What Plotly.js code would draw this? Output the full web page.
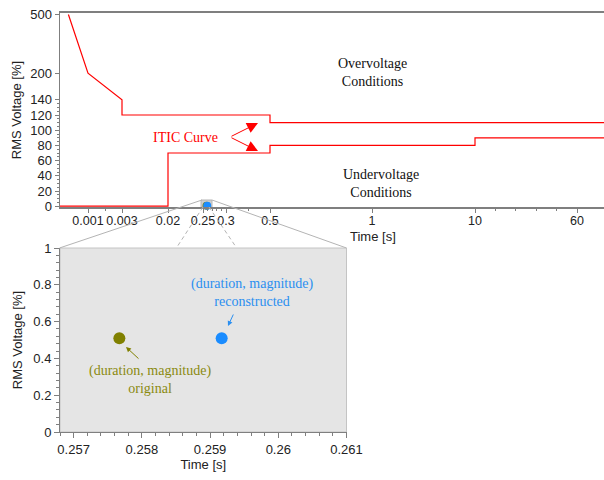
<!DOCTYPE html>
<html>
<head>
<meta charset="utf-8">
<script src="https://cdn.plot.ly/plotly-3.0.1.min.js"></script>
<style>html,body{margin:0;padding:0;background:#fff;}#chart{width:604px;height:480px;}</style>
</head>
<body>
<div id="chart"></div>
<script>
// ---- data ----
const upperTime = [0.0003, 0.001, 0.003, 0.003, 0.5, 0.5, 80];
const upperVolt = [500, 200, 140, 120, 120, 110, 110];
const lowerTime = [0, 0.02, 0.02, 0.5, 0.5, 10, 10, 80];
const lowerVolt = [0, 0, 70, 70, 80, 80, 90, 90];
const origTime = [0.25767];
const origVolt = [0.51];
const recTime = [0.25917];
const recVolt = [0.51];

const topXTicks = [0.001, 0.003, 0.02, 0.25, 0.3, 0.5, 1, 10, 60];
const topXLabels = ['0.001', '0.003', '0.02', '0.25', '0.3', '0.5', '1', '10', '60'];
const topXMinor = [0.002, 0.26, 0.27, 0.28, 0.29, 0.4, 20, 30, 40, 50];
const topYTicks = [0, 20, 40, 60, 80, 100, 120, 140, 200, 500];
const topYLabels = ['0', '20', '40', '60', '80', '100', '120', '140', '200', '500'];
const botXTicks = [0.257, 0.258, 0.259, 0.26, 0.261];
const botXLabels = ['0.257', '0.258', '0.259', '0.26', '0.261'];
const botYTicks = [0, 0.2, 0.4, 0.6, 0.8, 1];
const botYLabels = ['0', '0.2', '0.4', '0.6', '0.8', '1'];

// ---- piecewise scales of the top (ITIC) chart ----
const XV = [0, 0.001, 0.003, 0.02, 0.25, 0.3, 0.5, 1, 10, 60, 80];
const XP = [0, 28, 62, 108, 143, 166, 210, 312, 415, 517, 557];
const YV = [0, 140, 200, 500, 600];
const YP = [0, 106.4, 133, 191.7, 211.3];
function interp(v, V, P) {
  for (let i = 1; i < V.length; i++) {
    if (v <= V[i]) return P[i-1] + (v - V[i-1]) * (P[i] - P[i-1]) / (V[i] - V[i-1]);
  }
  const n = V.length - 1;
  return P[n] + (v - V[n]) * (P[n] - P[n-1]) / (V[n] - V[n-1]);
}
const sx = v => interp(v, XV, XP);
const sy = v => interp(v, YV, YP);
const minorY = [];
for (let v = 5; v < 140; v += 5) if (v % 20) minorY.push(sy(v));

// pixel -> paper helpers for decorations
const px = x => (x - 60) / 544;
const py = y => (432 - y) / 419;

const RED = '#ff0000', OLIVE = '#808000', BLUE = '#1a8cff';
const tickFont = {family: 'Liberation Sans, Arial, sans-serif', size: 13, color: '#222'};
const topXFont = {family: 'Liberation Sans, Arial, sans-serif', size: 12.5, color: '#222'};
const serif = 'Liberation Serif, Times New Roman, serif';

const traces = [
  {x: upperTime.map(sx), y: upperVolt.map(sy), xaxis: 'x', yaxis: 'y', mode: 'lines',
   line: {color: RED, width: 1.2}, hoverinfo: 'skip'},
  {x: lowerTime.map(sx), y: lowerVolt.map(sy), xaxis: 'x', yaxis: 'y', mode: 'lines',
   line: {color: RED, width: 1.2}, hoverinfo: 'skip'},
  {x: origTime.map(sx), y: origVolt.map(sy), xaxis: 'x', yaxis: 'y', mode: 'markers', cliponaxis: false,
   marker: {color: OLIVE, size: 8}},
  {x: recTime.map(sx), y: recVolt.map(sy), xaxis: 'x', yaxis: 'y', mode: 'markers', cliponaxis: false,
   marker: {color: BLUE, size: 8}},
  {x: origTime, y: origVolt, xaxis: 'x2', yaxis: 'y2', mode: 'markers',
   marker: {color: OLIVE, size: 12}},
  {x: recTime, y: recVolt, xaxis: 'x2', yaxis: 'y2', mode: 'markers',
   marker: {color: BLUE, size: 12}}
];

const GRAY = '#7f7f7f';
function note(x, y, text, color, extra) {
  return Object.assign({xref: 'paper', yref: 'paper', x: px(x), y: py(y), text: text, showarrow: false,
    xanchor: 'center', yanchor: 'middle', font: {family: serif, size: 14, color: color}}, extra || {});
}
function arrow(hx, hy, ax, ay, color, size) {
  return {xref: 'paper', yref: 'paper', x: px(hx), y: py(hy), text: '', showarrow: true,
    ax: ax, ay: ay, arrowhead: 2, arrowsize: size, arrowwidth: 1, arrowcolor: color};
}
const layout = {
  width: 604, height: 480,
  margin: {l: 60, r: 0, t: 13, b: 48},
  paper_bgcolor: '#fff', plot_bgcolor: 'rgba(0,0,0,0)',
  showlegend: false,
  font: tickFont,
  xaxis: {domain: [0, 1], anchor: 'y', range: [0, 544], showgrid: false, zeroline: false,
    tickmode: 'array', tickvals: topXTicks.map(sx), ticktext: topXLabels, tickangle: 0,
    ticks: 'outside', ticklen: 4, tickcolor: GRAY, tickfont: topXFont, ticklabelstandoff: -3,
    showline: true, linecolor: GRAY, linewidth: 2, mirror: true,
    minor: {tickmode: 'array', tickvals: topXMinor.map(sx), ticks: 'outside', ticklen: 2, tickcolor: GRAY}},
  yaxis: {domain: [py(207), 1], anchor: 'x', range: [-0.8, 193.2], showgrid: false, zeroline: false,
    tickmode: 'array', tickvals: topYTicks.map(sy), ticktext: topYLabels,
    ticks: 'outside', ticklen: 4, tickcolor: GRAY, tickfont: tickFont,
    showline: true, linecolor: GRAY, linewidth: 1.5,
    minor: {tickmode: 'array', tickvals: minorY, ticks: 'outside', ticklen: 2, tickcolor: GRAY},
    title: {text: 'RMS Voltage [%]', font: {size: 13, color: '#222'}, standoff: 5}},
  xaxis2: {domain: [0, px(346.5)], anchor: 'y2', range: [0.2568, 0.261], showgrid: false, zeroline: false,
    tickmode: 'array', tickvals: botXTicks, ticktext: botXLabels, tickangle: 0,
    ticks: 'outside', ticklen: 5, tickcolor: GRAY, tickfont: tickFont,
    showline: true, linecolor: GRAY, linewidth: 1,
    minor: {dtick: 0.0002, tick0: 0.257, ticks: 'outside', ticklen: 3, tickcolor: GRAY},
    title: {text: 'Time [s]', font: {size: 13, color: '#222'}, standoff: 3}},
  yaxis2: {domain: [0, py(248)], anchor: 'x2', range: [0, 1], showgrid: false, zeroline: false,
    tickmode: 'array', tickvals: botYTicks, ticktext: botYLabels,
    ticks: 'outside', ticklen: 5, tickcolor: GRAY, tickfont: tickFont,
    showline: true, linecolor: GRAY, linewidth: 1,
    minor: {dtick: 0.04, tick0: 0, ticks: 'outside', ticklen: 3, tickcolor: GRAY},
    title: {text: 'RMS Voltage [%]', font: {size: 13, color: '#222'}, standoff: 7}},
  shapes: [
    {type: 'rect', xref: 'x2 domain', yref: 'y2 domain', x0: 0, x1: 1, y0: 0, y1: 1,
     fillcolor: '#e5e5e5', line: {color: '#c4c4c4', width: 1}, layer: 'below'},
    {type: 'line', xref: 'paper', yref: 'paper', x0: px(202), y0: py(200), x1: px(59.5), y1: py(248),
     line: {color: '#b4b4b4', width: 1}},
    {type: 'line', xref: 'paper', yref: 'paper', x0: px(212), y0: py(200), x1: px(346.5), y1: py(248),
     line: {color: '#b4b4b4', width: 1}},
    {type: 'line', xref: 'paper', yref: 'paper', x0: px(203), y0: py(207), x1: px(177), y1: py(247),
     line: {color: '#b4b4b4', width: 1, dash: '4px,3px'}},
    {type: 'line', xref: 'paper', yref: 'paper', x0: px(209), y0: py(207), x1: px(236), y1: py(247),
     line: {color: '#b4b4b4', width: 1, dash: '4px,3px'}},
    {type: 'rect', xref: 'paper', yref: 'paper', x0: px(201), x1: px(212), y0: py(207), y1: py(200),
     fillcolor: '#cfcfcf', line: {color: '#b4b4b4', width: 1}, layer: 'below'}
  ],
  annotations: [
    note(373, 236, 'Time [s]', '#222', {font: {family: 'Liberation Sans, Arial, sans-serif', size: 13, color: '#222'}}),
    note(185, 137, 'ITIC Curve', RED),
    arrow(258, 123, -28, 14, RED, 2.2),
    arrow(258, 151, -28, -14, RED, 2.2),
    note(372, 72, 'Overvoltage<br>Conditions', '#111'),
    note(381, 183, 'Undervoltage<br>Conditions', '#111'),
    note(252, 292, '(duration, magnitude)<br>reconstructed', '#2b8ff0'),
    arrow(228, 326, 6, -13, '#2b8ff0', 1),
    note(150, 379, '(duration, magnitude)<br>original', '#8a8a10'),
    arrow(126, 347, 14, 13, OLIVE, 1)
  ]
};

Plotly.newPlot('chart', traces, layout, {displayModeBar: false, staticPlot: true});
</script>
</body>
</html>
